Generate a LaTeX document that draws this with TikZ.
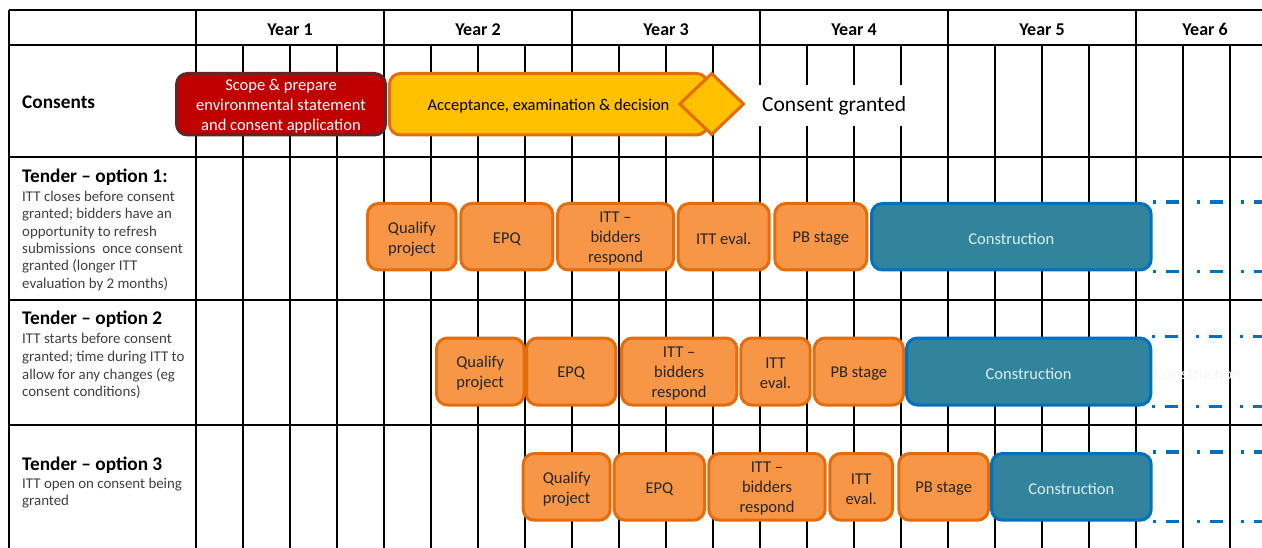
\documentclass[tikz,border=0pt]{standalone}
\usepackage{fontspec}
\setmainfont{Carlito}
\usetikzlibrary{shapes.geometric}

\definecolor{scopefill}{HTML}{C00000}
\definecolor{scopeline}{HTML}{632523}
\definecolor{acceptfill}{HTML}{FFC000}
\definecolor{orangeline}{HTML}{E46C0A}
\definecolor{stagefill}{HTML}{F79646}
\definecolor{buildfill}{HTML}{31849B}
\definecolor{buildline}{HTML}{0070C0}
\definecolor{buildtext}{HTML}{DAEEF3}
\definecolor{notetext}{HTML}{404040}
\definecolor{stagetext}{HTML}{262626}

% #1 style, #2 name, #3 left, #4 right, #5 top, #6 bottom, #7 text
% the box is drawn first, its caption is set slightly below the centre
\newcommand{\phasebox}[7]{%
  \node[#1, minimum width={#4-#3-3}, minimum height={#6-#5-3}]
    (#2) at ({(#3+#4)/2},{(#5+#6)/2}) {};
  \node[#1, draw=none, fill=none, yshift=-2pt] (#2-caption) at (#2.center) {#7};}

\begin{document}
\begin{tikzpicture}[x=1pt, y=-1pt,
  gridrule/.style={line width=1.6pt, black},
  boxfont/.style={font=\fontsize{16.5}{20}\selectfont},
  roundbox/.style={boxfont, line width=3pt, rounded corners=11pt,
    inner sep=0pt, align=center},
  scopebox/.style={roundbox, draw=scopeline, fill=scopefill, text=white},
  acceptbox/.style={roundbox, draw=orangeline, fill=acceptfill, text=black},
  stage/.style={roundbox, draw=orangeline, fill=stagefill, text=stagetext},
  build/.style={roundbox, draw=buildline, fill=buildfill, text=buildtext},
  extend/.style={buildline, line width=3.5pt,
    dash pattern=on 3pt off 10pt on 13pt off 18pt},
  yearlabel/.style={font=\fontsize{18}{22}\selectfont\bfseries, anchor=base},
  rowtitle/.style={font=\fontsize{19.3}{23}\selectfont\bfseries,
    anchor=base west, inner sep=0pt},
  note/.style={font=\fontsize{14.9}{17.4}\selectfont, text=notetext,
    anchor=base west, inner sep=0pt},
]
\useasboundingbox (0,0) rectangle (1262,548);

% table rules
\foreach \y in {10,45,157,300,425}
  \draw[gridrule] (9,\y) -- (1262,\y);
\draw[gridrule] (9,10) -- (9,548);
\draw[gridrule] (196,10) -- (196,548);
\foreach \k in {1,...,5}
  \draw[gridrule] ({196+188*\k},10) -- ({196+188*\k},548);
\foreach \k in {1,...,22}
  \draw[gridrule] ({196+47*\k},45) -- ({196+47*\k},548);

% year headings
\foreach \n in {1,...,5}
  \node[yearlabel] (year\n) at ({196+188*(\n-0.5)},35.5) {Year \n};
\node[yearlabel] (year6) at (1205,35.5) {Year 6};

% row headings
\node[rowtitle] (consents) at (22,108.5) {Consents};

\node[rowtitle] (opt1) at (22,182.7) {Tender – option 1:};
\foreach \t [count=\i] in {{ITT closes before consent},{granted; bidders have an},
    {opportunity to refresh},{submissions\ \ once consent},{granted (longer ITT},
    {evaluation by 2 months)}}
  \node[note] (opt1n\i) at (22,{201.6+17.35*(\i-1)}) {\t};

\node[rowtitle] (opt2) at (22,325) {Tender – option 2};
\foreach \t [count=\i] in {{ITT starts before consent},{granted; time during ITT to},
    {allow for any changes (eg},{consent conditions)}}
  \node[note] (opt2n\i) at (22,{344+17.5*(\i-1)}) {\t};

\node[rowtitle] (opt3) at (22,470) {Tender – option 3};
\foreach \t [count=\i] in {{ITT open on consent being},{granted}}
  \node[note] (opt3n\i) at (22,{488.3+17.5*(\i-1)}) {\t};

% consents timeline
\phasebox{scopebox}{scope}{175}{387}{72}{136.5}{Scope \& prepare\\environmental statement\\and consent application}
\phasebox{acceptbox}{accept}{388}{709}{72}{136.5}{Acceptance, examination \& decision}
\node[diamond, draw=orangeline, fill=acceptfill, line width=3pt, inner sep=0pt,
  minimum width=65pt, minimum height=62pt] (decision) at (711.7,104) {};
\node[fill=white, anchor=west, inner xsep=10pt, minimum height=41pt,
  font=\fontsize{21.5}{26}\selectfont] (granted) at (752,105.5) {Consent granted};

\coordinate (rightedge) at (1262,0);

% option 1
\phasebox{stage}{q1}{366}{457.7}{202}{271.5}{Qualify\\project}
\phasebox{stage}{e1}{459.3}{554.3}{202}{271.5}{EPQ}
\phasebox{stage}{i1}{556}{675}{202}{271.5}{ITT –\\bidders\\respond}
\phasebox{stage}{v1}{676.7}{770.7}{202}{271.5}{ITT eval.}
\phasebox{stage}{p1}{773.3}{868.3}{202}{271.5}{PB stage}
\phasebox{build}{c1}{870}{1152.7}{202}{271.5}{Construction}

% option 2
\phasebox{stage}{q2}{435}{525.5}{336.5}{406.5}{Qualify\\project}
\phasebox{stage}{e2}{525}{617.3}{336.5}{406.5}{EPQ}
\phasebox{stage}{i2}{620}{738.3}{336.5}{406.5}{ITT –\\bidders\\respond}
\phasebox{stage}{v2}{739.3}{811.7}{336.5}{406.5}{ITT\\eval.}
\phasebox{stage}{p2}{812.7}{905}{336.5}{406.5}{PB stage}
\phasebox{build}{c2}{905}{1152.3}{336.5}{406.5}{Construction}
\node[boxfont, text=black!4] (c2tail) at (1198,374) {Construction};

% option 3
\phasebox{stage}{q3}{521.7}{611.7}{452}{521.7}{Qualify\\project}
\phasebox{stage}{e3}{612.7}{706}{452}{521.7}{EPQ}
\phasebox{stage}{i3}{707.3}{826.7}{452}{521.7}{ITT –\\bidders\\respond}
\phasebox{stage}{v3}{828.3}{894}{452}{521.7}{ITT\\eval.}
\phasebox{stage}{p3}{897.3}{990}{452}{521.7}{PB stage}
\phasebox{build}{c3}{990}{1152.7}{452}{521.7}{Construction}

% construction continues beyond the chart
\foreach \c in {c1,c2,c3} {
  \draw[extend] (\c.north east) -- (\c.north east -| rightedge);
  \draw[extend] (\c.south east) -- (\c.south east -| rightedge);
}
\end{tikzpicture}
\end{document}
